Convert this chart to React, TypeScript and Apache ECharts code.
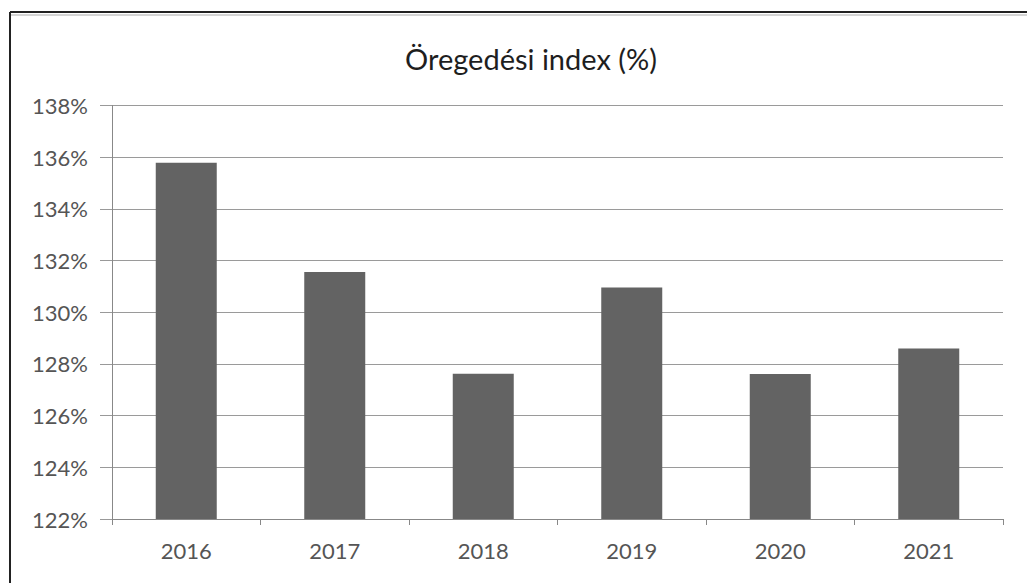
import React, { useEffect, useRef } from "react";
import * as echarts from "echarts";

const titleText = "Öregedési index (%)";
const years = ["2016", "2017", "2018", "2019", "2020", "2021"];
const indexValues = [135.78, 131.56, 127.62, 130.96, 127.61, 128.6];
const yMin = 122;
const yMax = 138;
const yStep = 2;

export default function App() {
  const ref = useRef<HTMLDivElement>(null);
  useEffect(() => {
    if (!ref.current) return;
    const chart = echarts.init(ref.current, undefined, { renderer: "svg" });
    const font = "Lato, 'Open Sans', sans-serif";
    chart.setOption({
      animation: false,
      backgroundColor: "#ffffff",
      title: {
        text: titleText,
        left: 526,
        top: 39,
        textAlign: "center",
        textStyle: { fontFamily: font, fontSize: 29, fontWeight: "normal", color: "#1e1e1e" },
      },
      graphic: [
        { type: "line", shape: { x1: 10, y1: 12, x2: 1027, y2: 12 }, style: { stroke: "#222", lineWidth: 2 } },
        { type: "line", shape: { x1: 10, y1: 15, x2: 1027, y2: 15 }, style: { stroke: "#aaa", lineWidth: 1 } },
        { type: "line", shape: { x1: 10, y1: 12, x2: 10, y2: 583 }, style: { stroke: "#222", lineWidth: 2 } },
      ],
      grid: { left: 112, right: 24, top: 105.5, bottom: 64 },
      xAxis: {
        type: "category",
        data: years,
        axisLine: { show: true, lineStyle: { color: "#888", width: 1 } },
        axisTick: { show: true, length: 6, lineStyle: { color: "#888" } },
        axisLabel: { fontFamily: font, fontSize: 22, color: "#555", margin: 20 },
      },
      yAxis: {
        type: "value",
        min: yMin,
        max: yMax,
        interval: yStep,
        axisLine: { show: true, lineStyle: { color: "#888", width: 1 } },
        axisTick: { show: true, length: 12, lineStyle: { color: "#999" } },
        splitLine: { show: true, lineStyle: { color: "#9a9a9a", width: 1 } },
        axisLabel: {
          fontFamily: font,
          fontSize: 22,
          color: "#555",
          margin: 24,
          formatter: (v: number) => `${v}%`,
        },
      },
      series: [
        {
          type: "bar",
          data: indexValues,
          barWidth: 61,
          itemStyle: { color: "#636363" },
        },
      ],
    });
    return () => chart.dispose();
  }, []);
  return (
    <div
      ref={ref}
      style={{ position: "fixed", left: 0, top: 0, width: 1027, height: 583 }}
    />
  );
}
